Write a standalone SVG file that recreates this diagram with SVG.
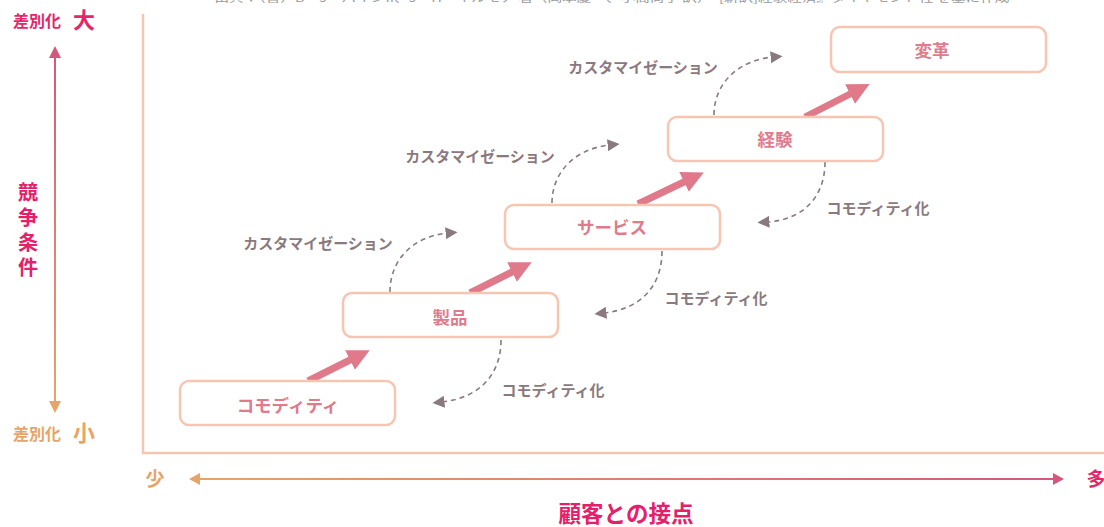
<svg xmlns="http://www.w3.org/2000/svg" width="1104" height="527" viewBox="0 0 1104 527">
<style>
text{font-family:"Noto Sans CJK JP","Noto Sans",sans-serif;}
.node rect{fill:#fff;stroke:#f8c5b2;stroke-width:2.5;}
.node text{fill:#e07b8c;font-size:17.5px;font-weight:bold;text-anchor:middle;dominant-baseline:central;}
.lbl{fill:#8a7a80;font-size:15px;font-weight:bold;text-anchor:middle;dominant-baseline:central;}
.dash{fill:none;stroke:#8a7a80;stroke-width:1.6;stroke-dasharray:5 4;}
.thick{stroke:#e07a8a;stroke-width:7;}
</style>
<defs>
<marker id="dh" viewBox="0 0 10 10" refX="2" refY="5" markerWidth="12" markerHeight="12" markerUnits="userSpaceOnUse" orient="auto"><path d="M0,0 L10,5 L0,10 z" fill="#8a7a80"/></marker>
<marker id="th" viewBox="0 0 10 10" refX="1" refY="5" markerWidth="22" markerHeight="24" markerUnits="userSpaceOnUse" orient="auto"><path d="M0,0 L10,5 L0,10 z" fill="#e07a8a"/></marker>
<linearGradient id="gv" x1="0" y1="0" x2="0" y2="1"><stop offset="0" stop-color="#d4587c"/><stop offset="1" stop-color="#e8a468"/></linearGradient>
<linearGradient id="gh" x1="0" y1="0" x2="1" y2="0"><stop offset="0" stop-color="#e8a468"/><stop offset="1" stop-color="#d4587c"/></linearGradient>
</defs>
<text x="612" y="1.5" font-size="11" fill="#9a9a9a" text-anchor="middle" textLength="795" lengthAdjust="spacingAndGlyphs">出典：（書）B・J・パインII、J・H・ギルモア 著（岡本慶一、小高尚子 訳）『[新訳]経験経済』ダイヤモンド社 を基に作成</text>
<g id="axes">
<path d="M143,14 V453 H1104" fill="none" stroke="#f8c5b2" stroke-width="2.5"/>
<rect x="54" y="56" width="2" height="347" fill="url(#gv)"/>
<path d="M55,46 L61,58 L49,58 z" fill="#d4587c"/>
<path d="M55,413 L61,401 L49,401 z" fill="#e8a468"/>
<text x="13" y="27" font-size="16" font-weight="bold" fill="#e5266a">差別化</text>
<text x="73" y="28" font-size="22" font-weight="bold" fill="#e5266a">大</text>
<text x="13" y="440" font-size="16" font-weight="bold" fill="#e8a468">差別化</text>
<text x="73" y="441" font-size="22" font-weight="bold" fill="#e8a468">小</text>
<text x="28" y="182" font-size="20" font-weight="bold" fill="#e5206a" style="writing-mode:vertical-rl;letter-spacing:5px">競争条件</text>
<rect x="198" y="478" width="858" height="2" fill="url(#gh)"/>
<path d="M189,479 L200,473 L200,485 z" fill="#e8a468"/>
<path d="M1064,479 L1053,473 L1053,485 z" fill="#d4587c"/>
<text x="155" y="486" font-size="19" font-weight="bold" fill="#e8a468" text-anchor="middle">少</text>
<text x="1096" y="486" font-size="19" font-weight="bold" fill="#e5266a" text-anchor="middle">多</text>
<text x="626" y="522" font-size="22.5" font-weight="bold" fill="#e5206a" text-anchor="middle">顧客との接点</text>
</g>
<g id="connectors">
<line class="thick" x1="308" y1="381" x2="352" y2="359" marker-end="url(#th)"/>
<line class="thick" x1="470" y1="293" x2="514" y2="271" marker-end="url(#th)"/>
<line class="thick" x1="638" y1="204" x2="686" y2="181" marker-end="url(#th)"/>
<line class="thick" x1="805" y1="117" x2="852" y2="93" marker-end="url(#th)"/>
<path class="dash" d="M390,292 C390,258 415,236 448,233" marker-end="url(#dh)"/>
<path class="dash" d="M552,203 C552,170 578,148 610,145" marker-end="url(#dh)"/>
<path class="dash" d="M714,115 C714,82 740,60 773,57" marker-end="url(#dh)"/>
<path class="dash" d="M501,340 C501,376 478,398 442,402" marker-end="url(#dh)"/>
<path class="dash" d="M662,251 C662,287 640,309 604,313" marker-end="url(#dh)"/>
<path class="dash" d="M825,162 C825,198 802,220 767,222" marker-end="url(#dh)"/>
<text class="lbl" x="318" y="242">カスタマイゼーション</text>
<text class="lbl" x="480" y="155">カスタマイゼーション</text>
<text class="lbl" x="643" y="66">カスタマイゼーション</text>
<text class="lbl" x="553" y="389">コモディティ化</text>
<text class="lbl" x="716" y="297">コモディティ化</text>
<text class="lbl" x="878" y="207">コモディティ化</text>
</g>
<g id="n1" class="node"><rect x="180" y="381" width="215" height="44" rx="9"/><text x="288" y="404">コモディティ</text></g>
<g id="n2" class="node"><rect x="343" y="293" width="215" height="44" rx="9"/><text x="450" y="316">製品</text></g>
<g id="n3" class="node"><rect x="505" y="205" width="215" height="44" rx="9"/><text x="612" y="226">サービス</text></g>
<g id="n4" class="node"><rect x="668" y="117" width="215" height="44" rx="9"/><text x="775" y="138">経験</text></g>
<g id="n5" class="node"><rect x="831" y="27" width="215" height="45" rx="9"/><text x="932" y="49">変革</text></g>
</svg>
